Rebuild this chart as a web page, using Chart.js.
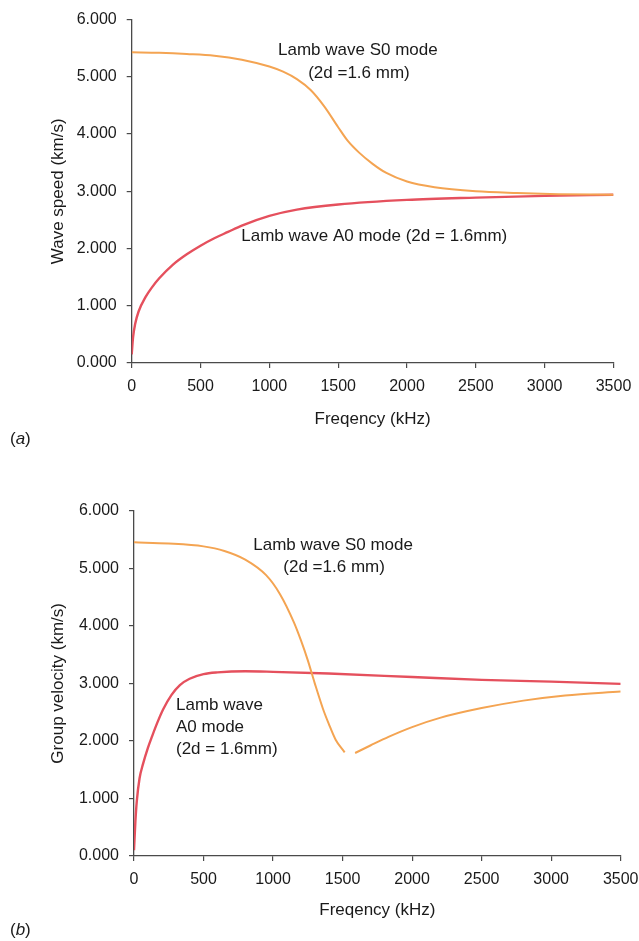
<!DOCTYPE html>
<html>
<head>
<meta charset="utf-8">
<script src="https://cdn.jsdelivr.net/npm/chart.js@4.4.0/dist/chart.umd.min.js"></script>
<style>
html, body { margin: 0; padding: 0; background: #fff; }
#wrap { position: relative; width: 639px; height: 941px; }
canvas { position: absolute; left: 0; }
#c1 { top: 0; }
#c2 { top: 470px; }
</style>
</head>
<body>
<div id="wrap">
  <canvas id="c1" width="639" height="470"></canvas>
  <canvas id="c2" width="639" height="471"></canvas>
</div>
<script>
// (a) phase speed, km/s against frequency, kHz
var topS0Freq  = [0, 200, 400, 600, 800, 1000, 1100, 1200, 1300, 1400, 1500, 1570, 1650, 1750, 1850, 2000, 2200, 2500, 2800, 3100, 3500];
var topS0Speed = [5.43, 5.42, 5.40, 5.37, 5.30, 5.18, 5.09, 4.96, 4.77, 4.48, 4.12, 3.88, 3.68, 3.48, 3.32, 3.17, 3.07, 3.00, 2.97, 2.95, 2.94];
var topA0Freq  = [0, 10, 25, 50, 100, 150, 200, 300, 400, 500, 600, 700, 800, 1000, 1200, 1500, 2000, 2500, 3000, 3500];
var topA0Speed = [0.15, 0.45, 0.68, 0.9, 1.15, 1.33, 1.48, 1.72, 1.9, 2.05, 2.18, 2.29, 2.40, 2.57, 2.68, 2.77, 2.85, 2.89, 2.92, 2.94];

// (b) group velocity, km/s against frequency, kHz (S0 has a break near 1550 kHz)
var botS0aFreq = [0, 250, 500, 650, 800, 950, 1050, 1150, 1200, 1250, 1300, 1360, 1400, 1450, 1515];
var botS0aVel  = [5.45, 5.43, 5.38, 5.30, 5.15, 4.88, 4.55, 4.06, 3.75, 3.40, 3.00, 2.55, 2.30, 2.02, 1.80];
var botS0bFreq = [1590, 1700, 1830, 2000, 2200, 2500, 2800, 3100, 3500];
var botS0bVel  = [1.79, 1.92, 2.07, 2.24, 2.40, 2.57, 2.70, 2.79, 2.86];
var botA0Freq  = [0, 10, 20, 40, 65, 100, 130, 170, 210, 270, 330, 400, 500, 600, 800, 1000, 1400, 2000, 2500, 3000, 3500];
var botA0Vel   = [0.1, 0.6, 0.95, 1.35, 1.6, 1.88, 2.08, 2.33, 2.55, 2.8, 2.97, 3.08, 3.16, 3.19, 3.21, 3.2, 3.17, 3.11, 3.06, 3.03, 2.99];

var xTicksMax = 3500, xStep = 500;
var yTicksMax = 6, yStep = 1;

var FONT = '"Liberation Sans", Arial, Helvetica, sans-serif';
var TXT = '#1a1a1a';
var AXIS = '#4a4a4a';
var ORANGE = '#f4a452';
var RED = '#e5505d';

function pts(xs, ys) {
	return xs.map(function (x, i) { return {x: x, y: ys[i]}; });
}

function line(data, color, width) {
	return {
		data: data,
		borderColor: color,
		borderWidth: width,
		pointRadius: 0,
		fill: false,
		cubicInterpolationMode: 'monotone'
	};
}

// text notes and the panel letter, placed in data coordinates
var notesPlugin = {
	id: 'notes',
	afterDraw: function (chart, args, opts) {
		var ctx = chart.ctx, xs = chart.scales.x, ys = chart.scales.y;
		ctx.save();
		ctx.fillStyle = TXT;
		ctx.font = '17px ' + FONT;
		ctx.textBaseline = 'middle';
		opts.items.forEach(function (n) {
			ctx.textAlign = n.align || 'center';
			ctx.fillText(n.text, xs.getPixelForValue(n.f), ys.getPixelForValue(n.v));
		});
		// "(a)" with italic letter
		var px = 10, py = opts.panelY;
		ctx.textAlign = 'left';
		ctx.fillText('(', px, py);
		px += ctx.measureText('(').width;
		ctx.font = 'italic 17px ' + FONT;
		ctx.fillText(opts.panel, px, py);
		px += ctx.measureText(opts.panel).width;
		ctx.font = '17px ' + FONT;
		ctx.fillText(')', px, py);
		ctx.restore();
	}
};

function drawPanel(canvasId, datasets, yTitle, area, notes, panel, panelY, xTitlePad) {
	var canvas = document.getElementById(canvasId);
	var W = canvas.width, H = canvas.height;
	var tickFont = {size: 16, family: FONT};
	var titleFont = {size: 17, family: FONT};

	return new Chart(canvas.getContext('2d'), {
		type: 'line',
		data: {datasets: datasets},
		plugins: [notesPlugin],
		options: {
			responsive: false,
			animation: false,
			layout: {padding: {left: 0, right: W - area.right, top: area.top, bottom: 0}},
			plugins: {
				legend: {display: false},
				tooltip: {enabled: false},
				notes: {items: notes, panel: panel, panelY: panelY}
			},
			scales: {
				x: {
					type: 'linear',
					min: 0,
					max: xTicksMax,
					ticks: {stepSize: xStep, color: TXT, font: tickFont, padding: 9, maxRotation: 0, autoSkip: false,
						callback: function (v) { return String(v); }},
					grid: {drawOnChartArea: false, drawTicks: true, tickLength: 5, color: AXIS, lineWidth: 1.2},
					border: {color: AXIS, width: 1.3},
					title: {display: true, text: 'Freqency (kHz)', color: TXT, font: titleFont, padding: {top: 0, bottom: xTitlePad}},
					afterFit: function (s) {
						s.height = H - area.bottom;
						// let the last label run off the edge as in the original
						s.paddingRight = 0;
						s.paddingLeft = 0;
					}
				},
				y: {
					type: 'linear',
					min: 0,
					max: yTicksMax,
					ticks: {stepSize: yStep, color: TXT, font: tickFont, padding: 10,
						callback: function (v) { return v.toFixed(3); }},
					grid: {drawOnChartArea: false, drawTicks: true, tickLength: 5, color: AXIS, lineWidth: 1.2},
					border: {color: AXIS, width: 1.3},
					title: {display: true, text: yTitle, color: TXT, font: titleFont, padding: {top: 47.8, bottom: 0}},
					afterFit: function (s) { s.width = area.left; }
				}
			}
		}
	});
}

drawPanel('c1',
	[line(pts(topS0Freq, topS0Speed), ORANGE, 2), line(pts(topA0Freq, topA0Speed), RED, 2.4)],
	'Wave speed (km/s)',
	{left: 131.7, right: 613.5, top: 16, bottom: 363},
	[
		{text: 'Lamb wave S0 mode', f: 1643, v: 5.47},
		{text: '(2d =1.6 mm)', f: 1651, v: 5.07},
		{text: 'Lamb wave A0 mode (2d = 1.6mm)', f: 1762, v: 2.22}
	],
	'a', 439, 40.8);

drawPanel('c2',
	[line(pts(botS0aFreq, botS0aVel), ORANGE, 2), line(pts(botS0bFreq, botS0bVel), ORANGE, 2),
	 line(pts(botA0Freq, botA0Vel), RED, 2.4)],
	'Group velocity (km/s)',
	{left: 134, right: 620.7, top: 40.7, bottom: 386},
	[
		{text: 'Lamb wave S0 mode', f: 1432, v: 5.40},
		{text: '(2d =1.6 mm)', f: 1439, v: 5.01},
		{text: 'Lamb wave', f: 302, v: 2.62, align: 'left'},
		{text: 'A0 mode', f: 302, v: 2.24, align: 'left'},
		{text: '(2d = 1.6mm)', f: 302, v: 1.86, align: 'left'}
	],
	'b', 460, 20.8);
</script>
</body>
</html>
